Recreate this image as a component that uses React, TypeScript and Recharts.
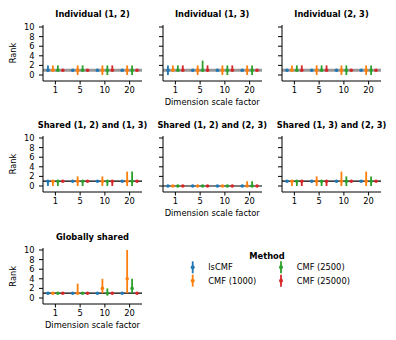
import React from 'react';
import { ScatterChart, Scatter, XAxis, YAxis, ErrorBar, ReferenceLine } from 'recharts';

const CATEGORIES = ['1', '5', '10', '20'];
const METHODS = ['lsCMF', 'CMF (1000)', 'CMF (2500)', 'CMF (25000)'];
const Y_TICKS = [0, 2, 4, 6, 8, 10];

// [median, low, high] per method (rows) and scale factor (columns)
const IND_12 = [
  [[1, 1, 2], [1, 1, 1], [1, 1, 1], [1, 1, 1]],
  [[1, 1, 2], [1, 0, 2], [1, 0, 2], [1, 0, 2]],
  [[1, 1, 2], [1, 1, 2], [1, 0, 2], [1, 0, 2]],
  [[1, 1, 1], [1, 1, 1], [1, 1, 2], [1, 1, 1]],
];
const IND_13 = [
  [[1, 0, 2], [1, 1, 1], [1, 1, 1], [1, 1, 1]],
  [[1, 1, 2], [1, 0, 2], [1, 0, 2], [1, 0, 2]],
  [[1, 1, 2], [1, 1, 3], [1, 0, 2], [1, 0, 2]],
  [[1, 1, 2], [1, 1, 2], [1, 1, 2], [1, 1, 1]],
];
const IND_23 = [
  [[1, 1, 1], [1, 1, 1], [1, 1, 1], [1, 1, 1]],
  [[1, 1, 2], [1, 0, 2], [1, 0, 2], [1, 0, 2]],
  [[1, 1, 2], [1, 1, 2], [1, 0, 2], [1, 0, 2]],
  [[1, 1, 2], [1, 1, 2], [1, 1, 1], [1, 1, 1]],
];
const SH_12_13 = [
  [[1, 0, 1], [1, 1, 1], [1, 1, 1], [1, 1, 1]],
  [[1, 0, 1], [1, 0, 2], [1, 0, 2], [1, 0, 3]],
  [[1, 0, 1], [1, 0, 1], [1, 0, 1], [1, 0, 3]],
  [[1, 1, 1], [1, 1, 1], [1, 0, 1], [1, 1, 1]],
];
const SH_12_23 = [
  [[0, 0, 0], [0, 0, 0], [0, 0, 0], [0, 0, 0]],
  [[0, 0, 0], [0, 0, 0], [0, 0, 0], [0, 0, 1]],
  [[0, 0, 0], [0, 0, 0], [0, 0, 0], [0, 0, 1]],
  [[0, 0, 0], [0, 0, 0], [0, 0, 0], [0, 0, 0]],
];
const SH_13_23 = [
  [[1, 1, 1], [1, 1, 1], [1, 1, 1], [1, 1, 1]],
  [[1, 0, 1], [1, 0, 2], [1, 0, 3], [1, 0, 3]],
  [[1, 0, 1], [1, 0, 1], [1, 0, 2], [1, 0, 2]],
  [[1, 0, 1], [1, 0, 1], [1, 1, 1], [1, 1, 1]],
];
const GLOBAL = [
  [[1, 1, 1], [1, 1, 1], [1, 1, 1], [1, 1, 1]],
  [[1, 1, 1], [1, 1, 3], [2, 1, 4], [4, 1, 10]],
  [[1, 1, 1], [1, 1, 1], [1, 0.5, 2], [2, 1, 4]],
  [[1, 1, 1], [1, 1, 1], [1, 1, 1], [1, 1, 1]],
];

const COLORS = ['#1f77b4', '#ff7f0e', '#2ca02c', '#d62728'];
const DODGE = [-0.3, -0.1, 0.1, 0.3];
const FONT = '"DejaVu Sans", sans-serif';
const FS = 8.3;

const PW = 99; // plot width
const PH = 56; // plot height
const COL_X = [43, 162.7, 282];
const ROW_Y = [25, 136, 248.3];

const PANELS = [
  { title: 'Individual (1, 2)', data: IND_12, col: 0, row: 0, ref: 1, refStyle: 'gray', showY: true, xLabel: false },
  { title: 'Individual (1, 3)', data: IND_13, col: 1, row: 0, ref: 1, refStyle: 'gray', showY: false, xLabel: true },
  { title: 'Individual (2, 3)', data: IND_23, col: 2, row: 0, ref: 1, refStyle: 'gray', showY: false, xLabel: false },
  { title: 'Shared (1, 2) and (1, 3)', data: SH_12_13, col: 0, row: 1, ref: 1, refStyle: 'black', showY: true, xLabel: false },
  { title: 'Shared (1, 2) and (2, 3)', data: SH_12_23, col: 1, row: 1, ref: 0, refStyle: 'black', showY: false, xLabel: true },
  { title: 'Shared (1, 3) and (2, 3)', data: SH_13_23, col: 2, row: 1, ref: 1, refStyle: 'black', showY: false, xLabel: false },
  { title: 'Globally shared', data: GLOBAL, col: 0, row: 2, ref: 1, refStyle: 'black', showY: true, xLabel: true },
];

function seriesData(panel: number[][][], m: number) {
  return panel[m].map((t, i) => ({ x: i + DODGE[m], y: t[0], err: [t[0] - t[1], t[2] - t[0]] }));
}

function Panel({ cfg }: { cfg: any }) {
  const left = COL_X[cfg.col];
  const top = ROW_Y[cfg.row];
  const tickStyle = { fill: '#000', fontSize: FS, fontFamily: FONT };
  return (
    <div style={{ position: 'absolute', left: left - 35, top: top - 4 }}>
      <ScatterChart width={35 + PW + 6} height={4 + PH + 26} margin={{ top: 4, right: 6, left: 0, bottom: 0 }}>
        <XAxis
          type="number"
          dataKey="x"
          domain={[-0.5, 3.5]}
          allowDataOverflow
          ticks={[0, 1, 2, 3]}
          interval={0}
          tickFormatter={(v: number) => CATEGORIES[Math.round(v)]}
          height={26}
          tickSize={3.5}
          tickMargin={3}
          stroke="#000"
          tick={tickStyle}
        />
        <YAxis
          type="number"
          dataKey="y"
          domain={[-1.25, 10.42]}
          allowDataOverflow
          ticks={Y_TICKS}
          interval={0}
          width={35}
          tickSize={4}
          tickMargin={4.5}
          stroke="#000"
          tick={tickStyle}
          tickFormatter={(v: number) => (cfg.showY ? String(v) : '')}
        />
        <ReferenceLine
          y={cfg.ref}
          stroke={cfg.refStyle === 'gray' ? '#999999' : '#000'}
          strokeWidth={cfg.refStyle === 'gray' ? 3 : 1.2}
        />
        {METHODS.map((name, m) => (
          <Scatter
            key={name}
            name={name}
            data={seriesData(cfg.data, m)}
            fill={COLORS[m]}
            isAnimationActive={false}
            shape={(p: any) => <circle cx={p.cx} cy={p.cy} r={1.8} fill={COLORS[m]} />}
          >
            <ErrorBar dataKey="err" direction="y" width={0} stroke={COLORS[m]} strokeWidth={1.8} isAnimationActive={false} />
          </Scatter>
        ))}
      </ScatterChart>
    </div>
  );
}

export default function App() {
  return (
    <div style={{ position: 'absolute', left: 0, top: 0, width: 396, height: 340, background: '#fff', fontFamily: FONT }}>
      {PANELS.map((cfg) => (
        <Panel key={cfg.title} cfg={cfg} />
      ))}
      <svg width={396} height={340} style={{ position: 'absolute', left: 0, top: 0, pointerEvents: 'none' }}>
        {PANELS.map((cfg) => {
          const cx = COL_X[cfg.col] + PW / 2;
          const top = ROW_Y[cfg.row];
          return (
            <g key={cfg.title}>
              <text x={cx} y={top - 8} textAnchor="middle" fontFamily={FONT} fontSize={FS} fontWeight="bold" fill="#000">
                {cfg.title}
              </text>
              {cfg.showY && (
                <text
                  transform={`translate(13.3, ${top + PH / 2}) rotate(-90)`}
                  dy={3}
                  textAnchor="middle"
                  fontFamily={FONT}
                  fontSize={FS}
                  fill="#000"
                >
                  Rank
                </text>
              )}
              {cfg.xLabel && (
                <text x={cx} y={top + PH + 23.5} textAnchor="middle" fontFamily={FONT} fontSize={FS} fill="#000">
                  Dimension scale factor
                </text>
              )}
            </g>
          );
        })}
        <text x={267} y={258.7} textAnchor="middle" fontFamily={FONT} fontSize={FS} fontWeight="bold" fill="#000">
          Method
        </text>
        {METHODS.map((name, m) => {
          const mx = m < 2 ? 192.7 : 281;
          const tx = m < 2 ? 208.3 : 296.7;
          const my = m % 2 === 0 ? 267.3 : 280.7;
          return (
            <g key={name}>
              <line x1={mx} x2={mx} y1={my - 6} y2={my + 6} stroke={COLORS[m]} strokeWidth={1.8} />
              <circle cx={mx} cy={my} r={2} fill={COLORS[m]} />
              <text x={tx} y={my + 3} fontFamily={FONT} fontSize={FS} fill="#000">
                {name}
              </text>
            </g>
          );
        })}
      </svg>
    </div>
  );
}
